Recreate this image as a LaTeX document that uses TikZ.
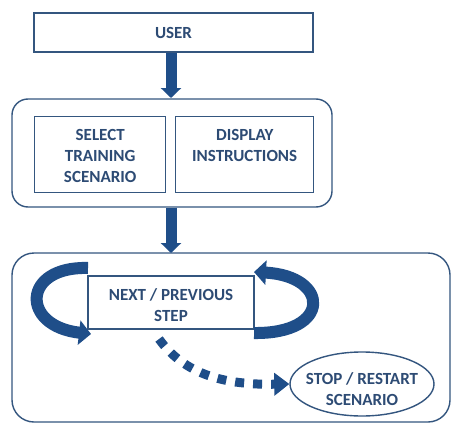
\documentclass[tikz,border=0pt]{standalone}
\usepackage{fontspec}
\setmainfont{Carlito}
\usetikzlibrary{arrows.meta,shapes.geometric}
\definecolor{arrowblue}{HTML}{1F4E89}
\definecolor{linecol}{HTML}{34567F}
\definecolor{txtcol}{HTML}{2D4B74}
\tikzset{
  box/.style={draw=linecol, line width=1.4pt, fill=white, inner sep=0pt, text=txtcol,
    font=\fontsize{17}{21}\selectfont\bfseries, align=center},
  lbl/.style={text=txtcol, font=\fontsize{17}{21}\selectfont\bfseries, align=center, inner sep=0pt},
  bigarrow/.style={draw=arrowblue, line width=11pt, -{Triangle[width=20pt,length=10pt]}},
  curvearrow/.style={draw=arrowblue, line width=12pt, -{Triangle[width=24pt,length=12pt]}},
  dasharrow/.style={draw=arrowblue, line width=9pt, dash pattern=on 9pt off 9pt, -{Triangle[width=22pt,length=15pt]}},
}
\begin{document}
\begin{tikzpicture}[x=1pt,y=-1pt]
\useasboundingbox (0,0) rectangle (452,423);
% containers
\node[box, rounded corners=16pt, minimum width=320pt, minimum height=108pt] (cont1) at (172,153) {};
\node[box, rounded corners=22pt, minimum width=438pt, minimum height=169pt] (cont2) at (231,337.5) {};
% top box
\node[box, minimum width=279pt, minimum height=39pt] (user) at (173.5,32.5) {};
\node[lbl, anchor=base] (usertxt) at (user.center |- 0,38) {USER};
\node[box, minimum width=131pt, minimum height=76pt, anchor=north west] (select) at (34,116) {};
\node[lbl, anchor=base] (selecttxt) at (select.center |- 0,182) {SELECT\\TRAINING\\SCENARIO};
\node[box, minimum width=138pt, minimum height=76pt, anchor=north west] (display) at (175,116) {};
\node[lbl, anchor=base] (displaytxt) at (display.center |- 0,161) {DISPLAY\\INSTRUCTIONS};
\node[box, minimum width=166pt, minimum height=53pt] (next) at (171,302.5) {};
\node[lbl, anchor=base] (nexttxt) at (next.center |- 0,321) {NEXT / PREVIOUS\\STEP};
\node[box, ellipse, minimum width=144pt, minimum height=64pt] (stop) at (362,384) {};
\node[lbl, anchor=base] (stoptxt) at (stop.center |- 0,405) {STOP / RESTART\\SCENARIO};
% straight arrows
\coordinate (a1) at (171,98);
\coordinate (a2) at (171,253);
\draw[bigarrow] (user.south -| a1) -- (a1);
\draw[bigarrow] (cont1.south -| a2) -- (a2);
% curved arrows
\coordinate (l0) at (88,268);
\coordinate (l1) at (91,334);
\coordinate (r0) at (254,333);
\coordinate (r1) at (254,272);
\draw[curvearrow] (l0) .. controls (22,266) and (20,326) .. (l1);
\draw[curvearrow] (r0) .. controls (332,334) and (330,276) .. (r1);
% dashed arrow
\coordinate (d0) at (159,339);
\draw[dasharrow] (d0) .. controls (185,375) and (225,385) .. (stop.west);
\end{tikzpicture}
\end{document}
